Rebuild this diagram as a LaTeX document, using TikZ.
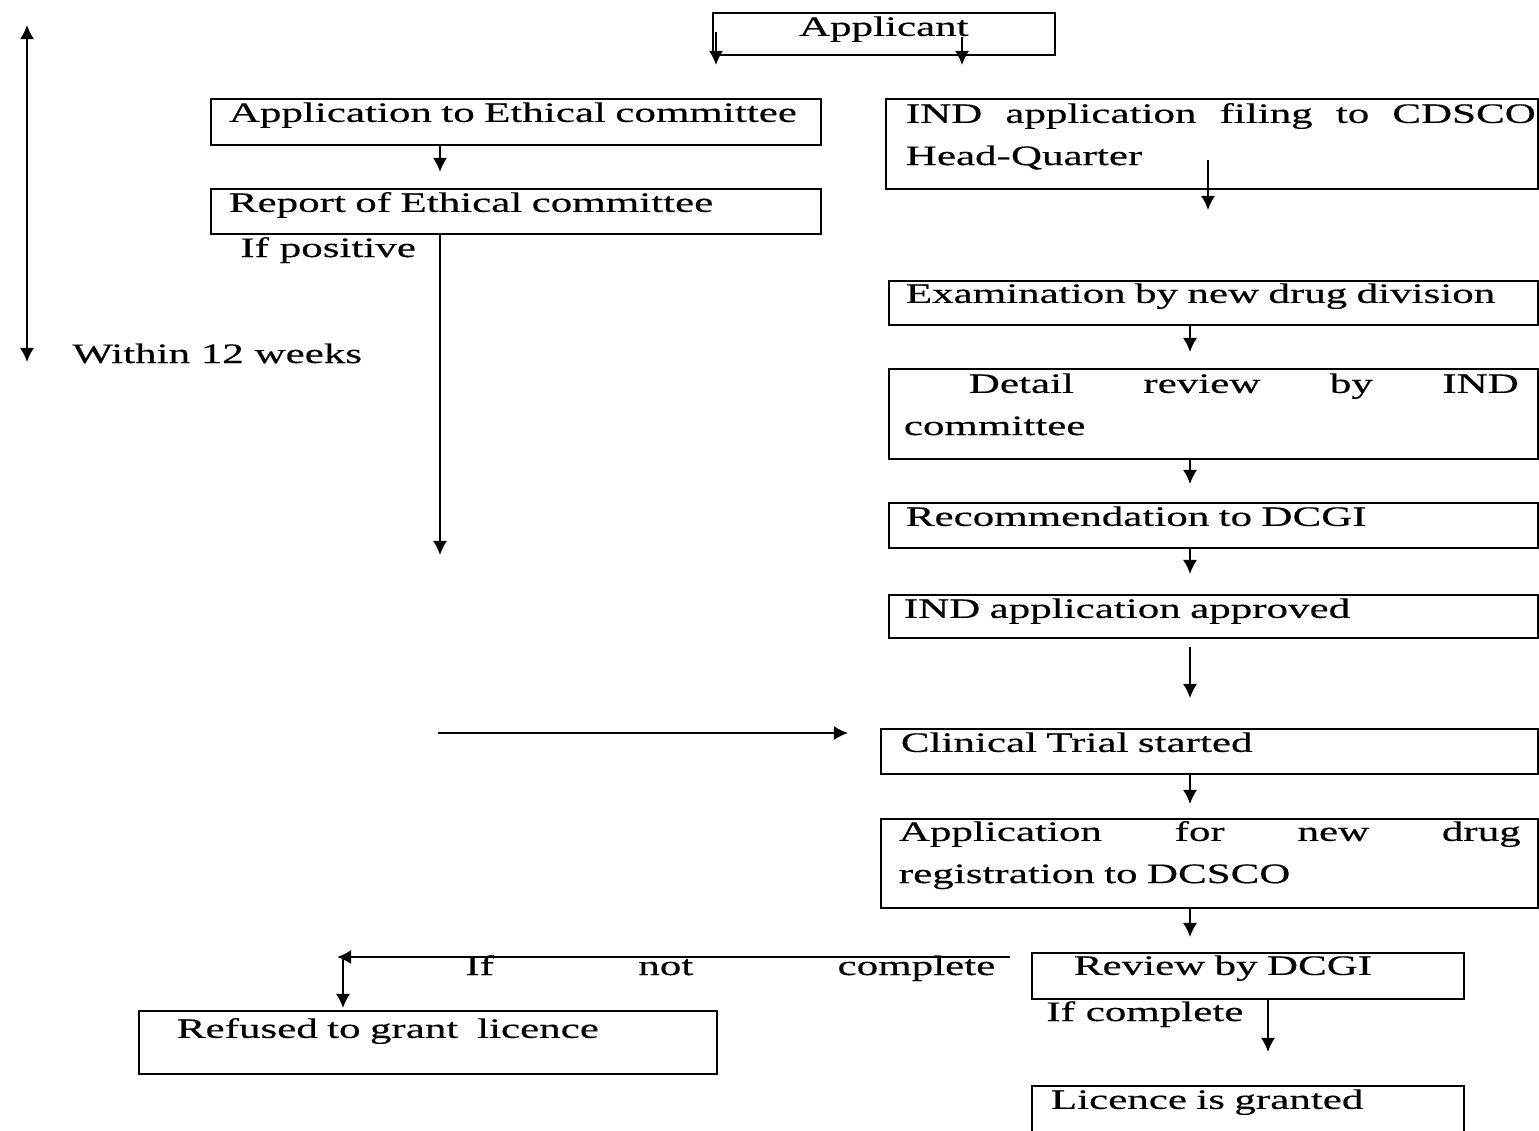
\documentclass[tikz,border=0pt]{standalone}
\usepackage{fontspec}
\setmainfont[FakeStretch=1.53,FakeBold=0.4]{Liberation Serif}
\usetikzlibrary{arrows.meta}

\tikzset{
  stage/.style={draw, line width=1pt, anchor=north west, inner xsep=#1,
    inner ysep=0pt, align=left},
  stage/.default=0.36cm,
  flow/.style={line width=1pt, -{Latex[length=8pt,width=8pt]}},
  note/.style={anchor=base west, inner sep=0pt}
}

\begin{document}
\begin{tikzpicture}[x=0.02cm, y=-0.02cm, font=\fontsize{16pt}{24pt}\selectfont]
  \useasboundingbox (0,0) rectangle (1539,1130);

  % top
  \node[stage=0pt, minimum width=6.84cm, align=center, text height=0.46cm,
    text depth=0.38cm] (applicant) at (712,12) {Applicant};

  % ethics side
  \node[stage, text width=11.48cm, text height=0.46cm, text depth=0.46cm]
    (ethapp) at (210,98) {Application to Ethical committee};
  \node[stage, text width=11.48cm, text height=0.46cm, text depth=0.44cm]
    (ethrep) at (210,188) {Report of Ethical committee};
  \node[note] (positive) at (240,257) {If positive};
  \node[note] (weeks) at (72,363) {Within 12 weeks};

  % CDSCO side
  \node[stage=0.4cm, text width=12.24cm, text height=0.48cm, text depth=1.32cm]
    (indfile) at (885,98)
    {\makebox[12.6cm][s]{IND\hfill application\hfill filing\hfill to\hfill CDSCO}\\Head-Quarter};
  \node[stage=0.34cm, text width=12.3cm, text height=0.44cm, text depth=0.44cm]
    (exam) at (888,280) {Examination by new drug division};
  \node[stage=0.3cm, text width=12.38cm, text height=0.48cm, text depth=1.32cm]
    (detail) at (888,368)
    {\hspace*{1.3cm}\makebox[11cm][s]{Detail\hfill review\hfill by\hfill IND}\\committee};
  \node[stage=0.34cm, text width=12.3cm, text height=0.46cm, text depth=0.44cm]
    (recom) at (888,502) {Recommendation to DCGI};
  \node[stage=0.3cm, text width=12.38cm, text height=0.46cm, text depth=0.4cm]
    (approved) at (888,594) {IND application approved};
  \node[stage=0.4cm, text width=12.34cm, text height=0.46cm, text depth=0.44cm]
    (trial) at (880,728) {Clinical Trial started};
  \node[stage=0.36cm, text width=12.42cm, text height=0.44cm, text depth=1.34cm]
    (ndreg) at (880,818)
    {\makebox[12.44cm][s]{Application\hfill for\hfill new\hfill drug}\\registration to DCSCO};

  % decision
  \node[stage=0.84cm, text width=6.96cm, text height=0.44cm, text depth=0.48cm]
    (dcgi) at (1031,952) {Review by DCGI};
  \node[stage=0.76cm, text width=10.04cm, text height=0.54cm, text depth=0.72cm]
    (refused) at (138,1010) {Refused to grant~ licence};
  \node[stage=0.38cm, text width=7.88cm, text height=0.46cm, text depth=0.52cm]
    (granted) at (1031,1085) {Licence is granted};
  \node[note] (notcomplete) at (465,975) {\makebox[10.6cm][s]{If not complete}};
  \node[note] (complete) at (1046,1021) {If complete};

  \coordinate (wtop) at (27,25);
  \coordinate (wbot) at (27,362);
  \coordinate (ethend) at (440,555);
  \coordinate (trialin) at (438,733);
  \coordinate (turn) at (337,957);

  \draw[flow, {Latex[length=8pt,width=8pt]}-{Latex[length=8pt,width=8pt]}] (wtop) -- (wbot);
  \draw[flow] ([shift={(4,-24)}]applicant.south west) -- ([shift={(4,-33)}]ethapp.north west -| applicant.south west);
  \draw[flow] ([shift={(250,-19)}]applicant.south west) -- ([shift={(250,-33)}]ethapp.north west -| applicant.south west);
  \draw[flow] ([shift={(230,0)}]ethapp.south west) -- ([shift={(230,-16)}]ethrep.north west);
  \draw[flow] ([shift={(230,0)}]ethrep.south west) -- (ethend);
  \draw[flow] (trialin) -- ([shift={(-32,5)}]trial.north west);
  \draw[flow] ([shift={(323,-30)}]indfile.south west) -- ([shift={(320,-70)}]exam.north west);
  \draw[flow] ([shift={(302,0)}]exam.south west) -- ([shift={(302,-16)}]detail.north west);
  \draw[flow] ([shift={(302,0)}]detail.south west) -- ([shift={(302,-18)}]recom.north west);
  \draw[flow] ([shift={(302,0)}]recom.south west) -- ([shift={(302,-20)}]approved.north west);
  \draw[flow] ([shift={(302,8)}]approved.south west) -- ([shift={(310,-30)}]trial.north west);
  \draw[flow] ([shift={(310,0)}]trial.south west) -- ([shift={(310,-14)}]ndreg.north west);
  \draw[flow] ([shift={(310,0)}]ndreg.south west) -- ([shift={(159,-15)}]dcgi.north west);
  \draw[flow] ([shift={(237,0)}]dcgi.south west) -- ([shift={(237,-33)}]granted.north west);
  \draw[flow] ([shift={(-21,5)}]dcgi.north west) -- (turn);
  \draw[flow] ([xshift=0.12cm]turn) -- ([shift={(205,-2)}]refused.north west);
\end{tikzpicture}
\end{document}
